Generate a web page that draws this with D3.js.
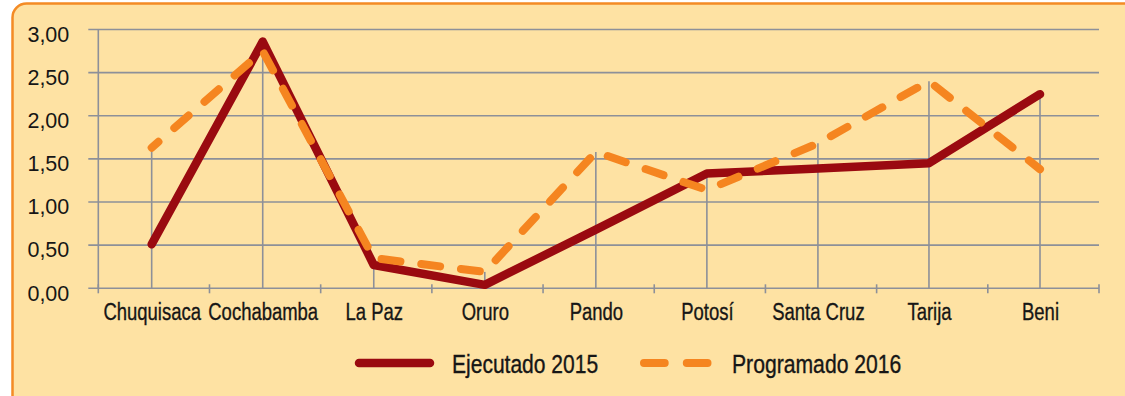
<!DOCTYPE html>
<html><head><meta charset="utf-8">
<script src="https://cdn.jsdelivr.net/npm/d3@7"></script>
<style>
html,body{margin:0;padding:0;background:#fff;}
svg{display:block;}
</style></head><body>
<svg id="chart" width="1125" height="396"></svg>
<script>
// Departamentos y valores por serie
const departamentos = ["Chuquisaca","Cochabamba","La Paz","Oruro","Pando","Potosí","Santa Cruz","Tarija","Beni"];
const ejecutado2015 = [0.51, 2.86, 0.27, 0.04, 0.68, 1.33, 1.39, 1.45, 2.25];
const programado2016 = [1.63, 2.75, 0.35, 0.19, 1.58, 1.14, 1.68, 2.40, 1.38];
const yTicks = [0, 0.5, 1, 1.5, 2, 2.5, 3];
const seriesNames = ["Ejecutado 2015", "Programado 2016"];

const C_BG = "#FEE2A3", C_BORDER = "#F48B25", C_GRID = "#8D9099";
const C_EJEC = "#9A0A10", C_PROG = "#F58520", C_TEXT = "#161616";
const SANS = "'Liberation Sans',Arimo,Arial,sans-serif";

const svg = d3.select("#chart");

// Panel de fondo con borde redondeado
svg.append("rect")
  .attr("x", 12.5).attr("y", 3.5).attr("width", 1140).attr("height", 430)
  .attr("rx", 14).attr("fill", C_BG).attr("stroke", C_BORDER).attr("stroke-width", 2.5);

const plotLeft = 98.3, plotRight = 1099, plotTop = 29.5, plotBottom = 288.3;

const y = d3.scaleLinear().domain([0, 3]).range([plotBottom, plotTop]);
const xBand = d3.scaleBand().domain(departamentos).range([plotLeft, plotRight]);
const x = d3.scalePoint().domain(departamentos).range([plotLeft, plotRight]).padding(0.506).align(0.475);

// Líneas de cuadrícula horizontales
svg.append("g").selectAll("line").data(yTicks).join("line")
  .attr("x1", plotLeft - 10).attr("x2", plotRight)
  .attr("y1", d => y(d)).attr("y2", d => y(d))
  .attr("stroke", C_GRID).attr("stroke-width", 1.6);

// Eje Y con etiquetas
const yAxis = svg.append("g").attr("transform", `translate(${plotLeft},0)`)
  .call(d3.axisLeft(y).tickValues(yTicks).tickSize(10).tickPadding(19)
    .tickFormat(d => d3.format(".2f")(d).replace(".", ",")));
yAxis.select(".domain").remove();
yAxis.selectAll(".tick line").remove();
yAxis.selectAll("text").attr("font-family", SANS).attr("font-size", 21.5)
  .attr("fill", C_TEXT).attr("dy", "0.55em");

svg.append("line").attr("x1", plotLeft).attr("x2", plotLeft).attr("y1", y(3)).attr("y2", y(0))
  .attr("stroke", C_GRID).attr("stroke-width", 1.6);

// Líneas verticales desde el valor máximo hasta el eje
svg.append("g").selectAll("line").data(departamentos).join("line")
  .attr("x1", d => x(d)).attr("x2", d => x(d))
  .attr("y1", (d, i) => y(Math.max(ejecutado2015[i], programado2016[i])))
  .attr("y2", y(0))
  .attr("stroke", C_GRID).attr("stroke-width", 1.6);

// Marcas del eje X en los límites de cada categoría
const bounds = departamentos.map(d => xBand(d)).concat([plotRight]);
svg.append("g").selectAll("line").data(bounds).join("line")
  .attr("x1", d => d).attr("x2", d => d)
  .attr("y1", y(0) - 4).attr("y2", y(0) + 5)
  .attr("stroke", C_GRID).attr("stroke-width", 1.6);

// Etiquetas del eje X (tipografía estrecha)
const xAxis = svg.append("g").attr("transform", `translate(0,${y(0)})`)
  .call(d3.axisBottom(x).tickSize(0).tickPadding(0));
xAxis.select(".domain").remove();
xAxis.selectAll("text")
  .attr("font-family", SANS).attr("font-size", 24).attr("fill", C_TEXT)
  .attr("stroke", C_TEXT).attr("stroke-width", 0.35)
  .attr("y", 0).attr("dy", null)
  .attr("transform", "translate(0,31.5) scale(0.77,1)");

// Series
const line = d3.line().x((d, i) => x(departamentos[i])).y(d => y(d));

svg.append("path").datum(ejecutado2015).attr("d", line)
  .attr("fill", "none").attr("stroke", C_EJEC).attr("stroke-width", 8.5)
  .attr("stroke-linejoin", "round").attr("stroke-linecap", "round");

svg.append("path").datum(programado2016).attr("d", line)
  .attr("fill", "none").attr("stroke", C_PROG).attr("stroke-width", 8)
  .attr("stroke-linejoin", "round").attr("stroke-linecap", "round")
  .attr("stroke-dasharray", "19,21").attr("stroke-dashoffset", 10);

// Leyenda
const legend = svg.append("g");
legend.append("line").attr("x1", 359).attr("x2", 430).attr("y1", 363).attr("y2", 363)
  .attr("stroke", C_EJEC).attr("stroke-width", 8.5).attr("stroke-linecap", "round");
legend.append("text").attr("transform", "translate(452,372.5) scale(0.825,1)").text(seriesNames[0]);
legend.append("line").attr("x1", 644).attr("x2", 708).attr("y1", 363).attr("y2", 363)
  .attr("stroke", C_PROG).attr("stroke-width", 8).attr("stroke-linecap", "round")
  .attr("stroke-dasharray", "20.7,22.1");
legend.append("text").attr("transform", "translate(732,372.5) scale(0.83,1)").text(seriesNames[1]);
legend.selectAll("text").attr("font-family", SANS).attr("font-size", 25.5).attr("fill", C_TEXT)
  .attr("stroke", C_TEXT).attr("stroke-width", 0.35);
</script>
</body></html>
